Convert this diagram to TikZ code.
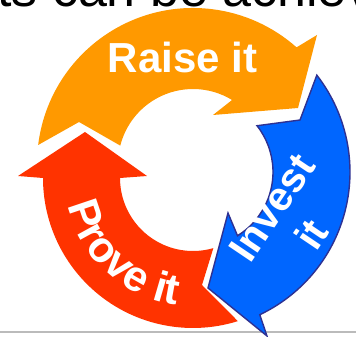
\documentclass[tikz,border=0pt]{standalone}
\usepackage{fontspec}
\setmainfont{Liberation Sans}
\usetikzlibrary{calc,decorations.text}

\definecolor{raiseorange}{HTML}{FF9900}
\definecolor{provered}{HTML}{FF3300}
\definecolor{investblue}{HTML}{0066FF}
\definecolor{investedge}{HTML}{2E3192}
\definecolor{rulegray}{HTML}{BBBBBB}

\newcommand{\cyclelabel}{\bfseries\color{white}}

\begin{document}
\begin{tikzpicture}[x=1pt,y=1pt,
  raisearrow/.style={fill=raiseorange},
  provearrow/.style={fill=provered},
  investarrow/.style={fill=investblue, draw=investedge, line width=1.4pt, line join=miter},
  steplabel/.style={text=white, font=\bfseries\fontsize{#1}{48}\selectfont, inner sep=0pt}]
\useasboundingbox (0,0) rectangle (356,337);
\clip (0,0) rectangle (356,337);

% centres of the three arcs
\coordinate (oc) at (193,173);
\coordinate (rc) at (193,159);
\coordinate (bo) at (192,165);
\coordinate (bi) at (198,165);

% heading line, only its lower part shows
\node[anchor=base west, inner sep=0pt, font=\fontsize{52}{52}\selectfont] (heading) at (-3,330) {ts can be achieved};

% rule under the cycle
\coordinate (ruleL) at (0,5);
\coordinate (ruleR) at (356,5);
\draw[rulegray, line width=1.6pt] (ruleL) -- (ruleR);

% orange arrow: left -> top -> right
\fill[raisearrow] ($(oc)+(173:156)$) arc[start angle=173, end angle=48.4, radius=156]
  -- (317,302) -- (298,229) -- (213,222)
  -- ($(oc)+(58.6:75)$) arc[start angle=58.6, end angle=165.8, radius=75]
  -- (79,215) -- cycle;

% red arrow: bottom -> left -> up
\fill[provearrow] ($(rc)+(287.4:150)$) arc[start angle=287.4, end angle=180, radius=150]
  -- (18,161) -- (85,205) -- (147,161)
  -- ($(rc)+(180:73)$) arc[start angle=180, end angle=286.2, radius=73]
  -- (202,52) -- cycle;

% blue arrow: right -> bottom
\filldraw[investarrow] ($(bo)+(37.8:158)$) arc[start angle=37.8, end angle=-64.6, radius=158]
  -- (267,1) -- (208,49) -- (228,124)
  -- ($(bi)+(-58.2:75)$) arc[start angle=-58.2, end angle=38.1, radius=75]
  -- (300,217) -- cycle;

% labels
\node[steplabel=42, anchor=base] (raise) at (182.5,264) {Raise it};

\path[decorate, decoration={text along path, text align=center,
    text={|\cyclelabel\fontsize{43}{43}\selectfont|Prove it}}]
  ($(rc)+(185:128)$) arc[start angle=185, end angle=270, radius=128];

\node[steplabel=41, rotate=56, align=center] (invest) at (292,116) {Invest\\it};
\end{tikzpicture}
\end{document}
